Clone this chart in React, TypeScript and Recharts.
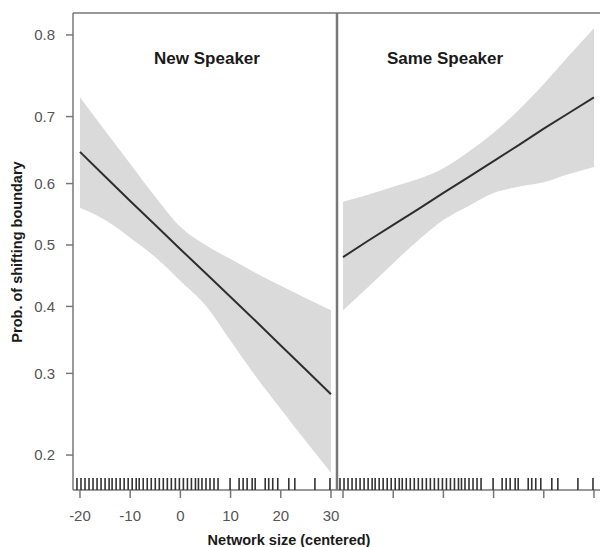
import React from 'react';
import {
  ComposedChart,
  Area,
  Line,
  Scatter,
  XAxis,
  YAxis,
  ReferenceLine,
} from 'recharts';

// network size grid (centered) at which the curves were read
const X_GRID = [-20, -15, -10, -5, 0, 5, 10, 15, 20, 25, 30];

// New Speaker panel: fitted prob and 95% band
const NEW_FIT = [0.649, 0.611, 0.572, 0.533, 0.493, 0.454, 0.415, 0.377, 0.340, 0.305, 0.272];
const NEW_LO = [0.561, 0.541, 0.512, 0.48, 0.441, 0.402, 0.347, 0.296, 0.253, 0.215, 0.182];
const NEW_HI = [0.726, 0.68, 0.631, 0.579, 0.53, 0.5, 0.477, 0.454, 0.433, 0.413, 0.394];

// Same Speaker panel
const SAME_FIT = [0.48, 0.507, 0.533, 0.559, 0.585, 0.61, 0.635, 0.659, 0.683, 0.705, 0.726];
const SAME_LO = [0.394, 0.431, 0.47, 0.508, 0.541, 0.564, 0.585, 0.595, 0.602, 0.615, 0.626];
const SAME_HI = [0.571, 0.582, 0.595, 0.607, 0.624, 0.649, 0.677, 0.709, 0.743, 0.777, 0.807];

// observed network sizes (rug)
const RUG = [
  -20.6, -19.8, -19.0, -18.2, -17.4, -16.6, -15.8, -15.0, -14.2, -13.6, -12.8, -12.0,
  -11.2, -10.4, -9.6, -8.8, -8.2, -7.4, -6.6, -5.8, -5.0, -4.2, -3.4, -2.6, -1.8, -1.0,
  -0.2, 0.6, 1.4, 2.2, 3.0, 3.6, 4.3, 5.1, 5.9, 6.7, 7.5, 9.9, 11.7, 12.5, 13.3, 14.3,
  14.9, 16.9, 17.6, 18.4, 19.4, 21.6, 22.8, 26.8, 29.8,
];

const X_TICKS = [-20, -10, 0, 10, 20, 30];
const Y_TICKS = [0.2, 0.3, 0.4, 0.5, 0.6, 0.7, 0.8];

const FONT = '"Liberation Sans", Arial, Helvetica, sans-serif';
const AXIS = '#777';
const BAND = '#dadada';
const FIT = '#2e2e2e';

// y axis is on the logit scale
const logit = (p: number) => Math.log(p / (1 - p));
const Y_MIN = -1.617;
const Y_MAX = 1.531;
const Y_TICK_POS = Y_TICKS.map(logit);

const buildRows = (fit: number[], lo: number[], hi: number[]) =>
  X_GRID.map((x, i) => ({
    x,
    fit: logit(fit[i]),
    band: [logit(lo[i]), logit(hi[i])],
  }));

const newRows = buildRows(NEW_FIT, NEW_LO, NEW_HI);
const sameRows = buildRows(SAME_FIT, SAME_LO, SAME_HI);
const rugRows = RUG.map((x) => ({ x, y: Y_MIN }));

const RugTick = (props: any) => {
  const { cx, cy } = props;
  return <line x1={cx} x2={cx} y1={cy - 12} y2={cy} stroke="#333" strokeWidth={1.6} />;
};

const tickStyle = { fill: '#555', fontSize: 15, fontFamily: FONT };

interface PanelProps {
  rows: { x: number; fit: number; band: number[] }[];
  width: number;
  rightPad: number;
  xDomain: [number, number];
  showY: boolean;
  showXLabels: boolean;
}

const Panel: React.FC<PanelProps> = ({ rows, width, rightPad, xDomain, showY, showXLabels }) => (
  <ComposedChart
    width={width}
    height={547}
    data={rows}
    margin={{ top: 13, right: rightPad, bottom: 0, left: 0 }}
  >
    <XAxis
      dataKey="x"
      type="number"
      domain={xDomain}
      allowDataOverflow
      ticks={X_TICKS}
      interval={0}
      height={57}
      tickSize={8}
      tickMargin={12}
      tick={tickStyle}
      tickFormatter={(v) => (showXLabels ? String(v) : '')}
      axisLine={{ stroke: AXIS, strokeWidth: 1.5 }}
      tickLine={{ stroke: AXIS, strokeWidth: 1.5 }}
    />
    <YAxis
      type="number"
      domain={[Y_MIN, Y_MAX]}
      allowDataOverflow
      ticks={Y_TICK_POS}
      hide={!showY}
      width={73}
      tickSize={7}
      tickMargin={11}
      tick={tickStyle}
      tickFormatter={(v) => (1 / (1 + Math.exp(-v))).toFixed(1)}
      axisLine={{ stroke: AXIS, strokeWidth: 1.5 }}
      tickLine={{ stroke: AXIS, strokeWidth: 1.5 }}
    />
    <Area
      dataKey="band"
      type="monotone"
      fill={BAND}
      fillOpacity={1}
      stroke="none"
      isAnimationActive={false}
    />
    <Line
      dataKey="fit"
      type="linear"
      stroke={FIT}
      strokeWidth={2}
      dot={false}
      isAnimationActive={false}
    />
    <Scatter data={rugRows} dataKey="y" shape={RugTick} isAnimationActive={false} />
    <ReferenceLine y={Y_MAX} stroke={AXIS} strokeWidth={1.5} />
    {showY && <ReferenceLine x={xDomain[1]} stroke={AXIS} strokeWidth={2.5} />}
  </ComposedChart>
);

export default function App() {
  return (
    <div style={{ position: 'absolute', left: 0, top: 0, width: 600, height: 547, background: '#fff' }}>
      <div style={{ position: 'absolute', left: 0, top: 0 }}>
        <Panel rows={newRows} width={360} rightPad={23} xDomain={[-21.39, 31.2]} showY showXLabels />
      </div>
      <div style={{ position: 'absolute', left: 337, top: 0 }}>
        <Panel rows={sameRows} width={263} rightPad={0} xDomain={[-21.2, 31.2]} showY={false} showXLabels={false} />
      </div>
      <svg
        width={600}
        height={547}
        style={{ position: 'absolute', left: 0, top: 0, pointerEvents: 'none' }}
        fontFamily={FONT}
        fontWeight="bold"
      >
        <text x={207} y={64} textAnchor="middle" fontSize={17} fill="#1a1a1a">New Speaker</text>
        <text x={445} y={64} textAnchor="middle" fontSize={17} fill="#1a1a1a">Same Speaker</text>
        <text x={289} y={545} textAnchor="middle" fontSize={14.5} fill="#1a1a1a">Network size (centered)</text>
        <text
          x={22}
          y={252}
          textAnchor="middle"
          fontSize={14.5}
          fill="#1a1a1a"
          transform="rotate(-90, 22, 252)"
        >
          Prob. of shifting boundary
        </text>
      </svg>
    </div>
  );
}
